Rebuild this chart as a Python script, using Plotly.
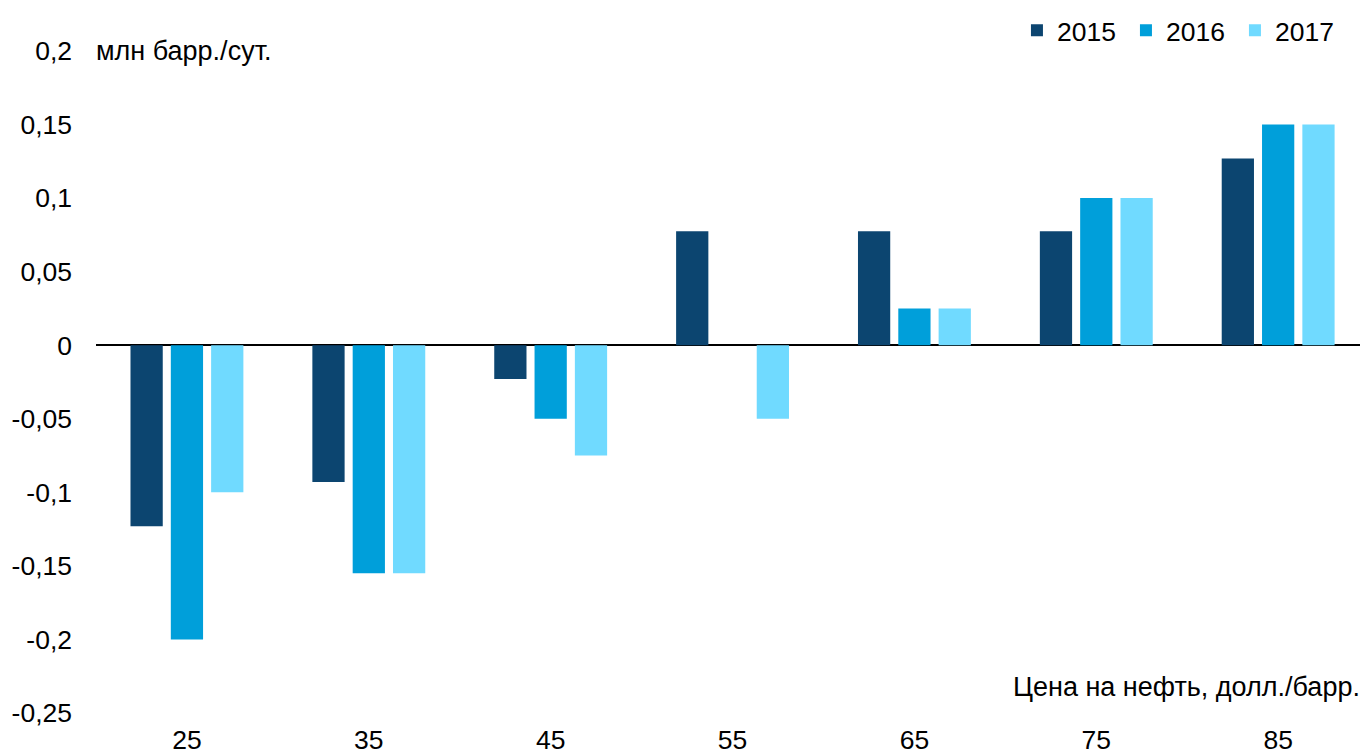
import plotly.graph_objects as go

categories = ["25", "35", "45", "55", "65", "75", "85"]
years = ["2015", "2016", "2017"]
v2015 = [-0.123, -0.093, -0.023, 0.0775, 0.0775, 0.0775, 0.127]
v2016 = [-0.2, -0.155, -0.05, 0.0, 0.025, 0.1, 0.15]
v2017 = [-0.1, -0.155, -0.075, -0.05, 0.025, 0.1, 0.15]
colors = ["#0C4570", "#009FDA", "#70DAFF"]
ytickvals = [-0.25, -0.2, -0.15, -0.1, -0.05, 0, 0.05, 0.1, 0.15, 0.2]
yticktext = ["-0,25", "-0,2", "-0,15", "-0,1", "-0,05", "0", "0,05", "0,1", "0,15", "0,2"]

FONT = "Liberation Sans, Arial, sans-serif"
FS = 26.5
FSA = 27

fig = go.Figure()
for name, vals, c in zip(years, [v2015, v2016, v2017], colors):
    fig.add_trace(go.Bar(name=name, x=list(range(len(categories))), y=vals,
                         marker=dict(color=c, line=dict(width=0))))

fig.update_layout(
    width=1360, height=756,
    margin=dict(l=96, r=0, t=51, b=43, autoexpand=False),
    paper_bgcolor="white", plot_bgcolor="white",
    barmode="group", bargap=0.335, bargroupgap=0.2,
    font=dict(family=FONT, size=FS, color="black"),
    showlegend=True,
    legend=dict(orientation="h", x=0.7286, xanchor="left", y=1.031, yanchor="middle",
                font=dict(size=FS), itemwidth=30, traceorder="normal",
                entrywidth=64, entrywidthmode="pixels",
                itemclick=False, bgcolor="rgba(0,0,0,0)"),
)
fig.update_xaxes(range=[-0.5, 6.45], tickvals=list(range(len(categories))), ticktext=categories,
                 showgrid=False, showline=False, zeroline=False, ticks="",
                 ticklabelstandoff=8, tickfont=dict(size=FS))
fig.update_yaxes(range=[-0.25, 0.2], tickvals=ytickvals, ticktext=yticktext,
                 showgrid=False, showline=False, zeroline=True, zerolinecolor="black",
                 zerolinewidth=1.5, ticks="", ticklabelstandoff=23, tickfont=dict(size=FS))

fig.add_annotation(text="млн барр./сут.", xref="paper", yref="paper", x=0, y=1,
                   xanchor="left", yanchor="middle", showarrow=False, xshift=-2,
                   font=dict(size=FSA))
fig.add_annotation(text="Цена на нефть, долл./барр.", xref="paper", yref="y",
                   x=1, y=-0.232, xanchor="right", yanchor="middle", showarrow=False,
                   xshift=2, font=dict(size=FSA))

fig.write_html("out.html", config={"displayModeBar": False},
               post_script="document.body.style.margin='0';document.body.style.overflow='hidden';")
